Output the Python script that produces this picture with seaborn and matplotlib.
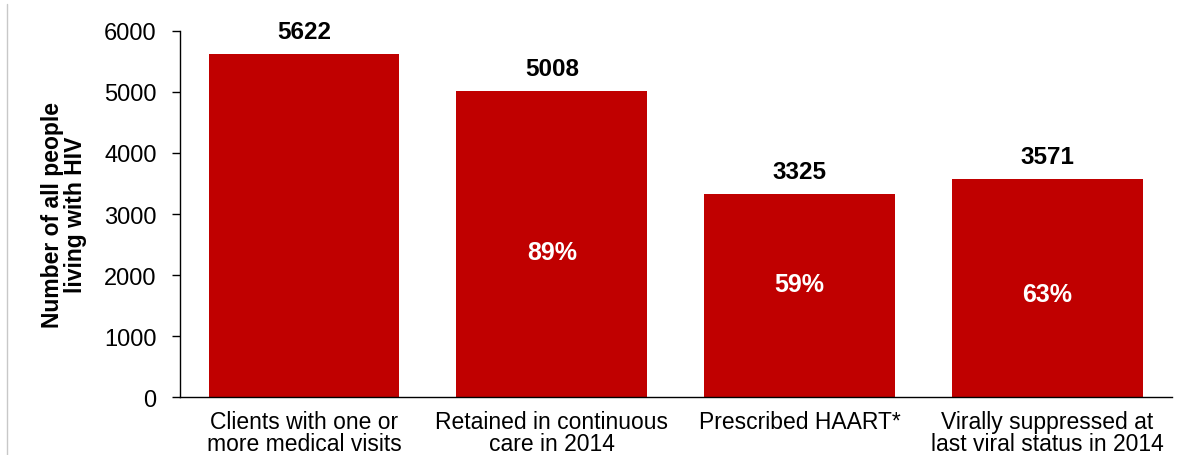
import matplotlib
matplotlib.use("Agg")
import matplotlib.pyplot as plt
import seaborn as sns
import pandas as pd
from matplotlib.lines import Line2D

categories = ["Clients with one or\nmore medical visits",
              "Retained in continuous\ncare in 2014",
              "Prescribed HAART*",
              "Virally suppressed at\nlast viral status in 2014"]
values = [5622, 5008, 3325, 3571]
percent_labels = ["", "89%", "59%", "63%"]
percent_y = [0, 2380, 1850, 1690]
yticks = [0, 1000, 2000, 3000, 4000, 5000, 6000]

sns.set_theme(style="white")
plt.rcParams['font.family'] = ['Liberation Sans', 'DejaVu Sans']

df = pd.DataFrame({"cat": categories, "val": values})

fig = plt.figure(figsize=(11.93, 4.56), dpi=100)
ax = fig.add_axes([0.151, 0.127, 0.831, 0.803])
sns.barplot(data=df, x="cat", y="val", color="#C00000", width=0.77,
            saturation=1, ax=ax, edgecolor="none")

ax.set_ylim(0, 6000)
ax.set_xlim(-0.5, 3.5)
ax.set_yticks(yticks)
ax.set_yticklabels([str(t) for t in yticks], fontsize=17, color="black")
ax.tick_params(axis='y', which='both', left=True, length=6, width=1, color='black', pad=11)
ax.tick_params(axis='x', bottom=False, labelsize=16.5, pad=3, labelcolor="black")
for lab in ax.get_xticklabels():
    lab.set_linespacing(0.98)
ax.set_xlabel("")
ax.set_ylabel("Number of all people\nliving with HIV", fontsize=16.5, fontweight='bold',
              labelpad=12, color="black", linespacing=1.0)

for s in ["top", "right"]:
    ax.spines[s].set_visible(False)
for s in ["left", "bottom"]:
    ax.spines[s].set_color("black")
    ax.spines[s].set_linewidth(1)

for i, v in enumerate(values):
    ax.annotate(str(v), (i, v), xytext=(0, 8), textcoords="offset points",
                ha="center", va="bottom", fontsize=17.5, fontweight="bold", color="black")
for i, (p, py) in enumerate(zip(percent_labels, percent_y)):
    if p:
        ax.text(i, py, p, ha="center", va="center", fontsize=18,
                fontweight="bold", color="white")

fig.add_artist(Line2D([7/1193, 7/1193], [0.0, 0.99], color="#c8c8c8", lw=1,
                      transform=fig.transFigure))

fig.savefig("out.png", dpi=100, facecolor="white")
